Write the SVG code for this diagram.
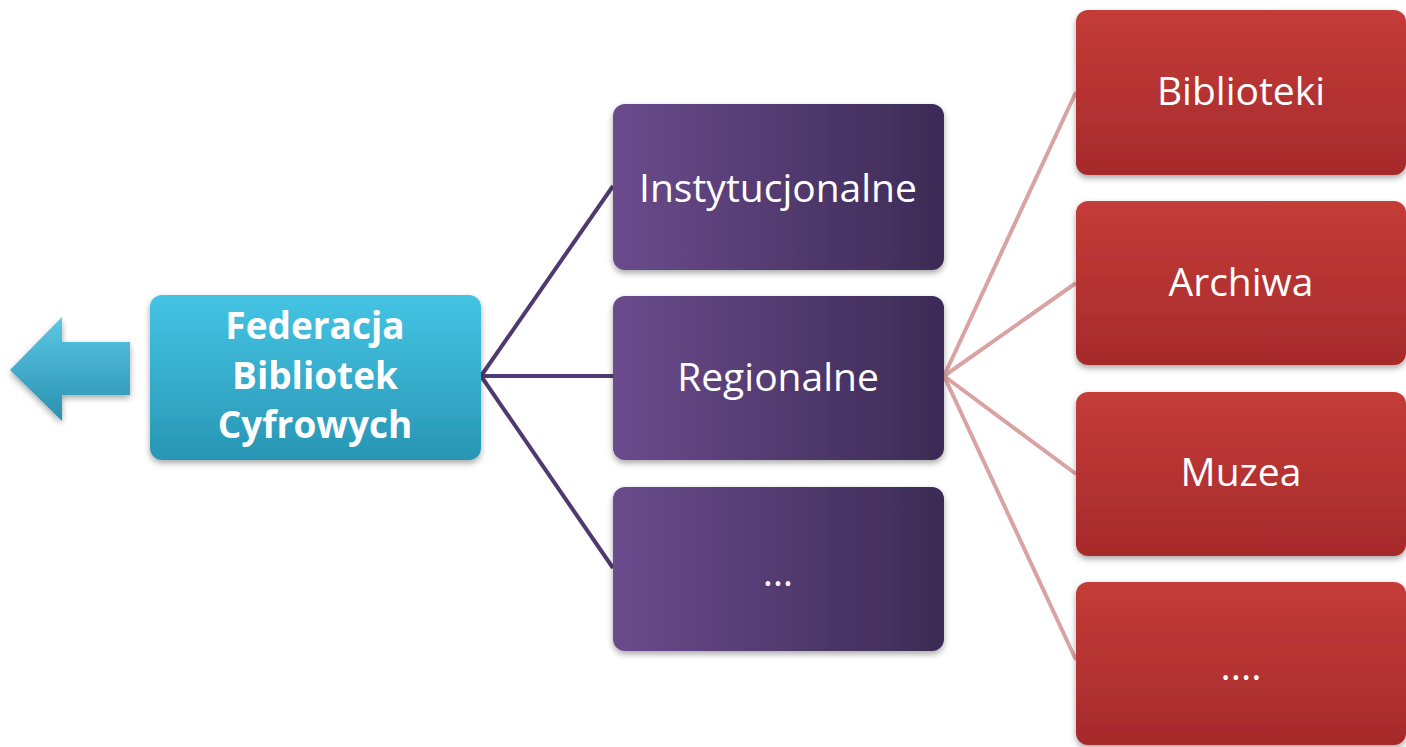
<svg xmlns="http://www.w3.org/2000/svg" width="1406" height="747" viewBox="0 0 1406 747">
<defs>
<linearGradient id="gBlue" x1="0" y1="0" x2="0" y2="1">
<stop offset="0" stop-color="#45c4e4"/><stop offset="1" stop-color="#2896b4"/>
</linearGradient>
<linearGradient id="gPurple" x1="0" y1="0" x2="1" y2="0">
<stop offset="0" stop-color="#6a4b8c"/><stop offset="1" stop-color="#3c2b55"/>
</linearGradient>
<linearGradient id="gRed" x1="0" y1="0" x2="0" y2="1">
<stop offset="0" stop-color="#c43c39"/><stop offset="1" stop-color="#a62a2b"/>
</linearGradient>
<linearGradient id="gArrow" x1="0" y1="0" x2="0" y2="1">
<stop offset="0" stop-color="#5cc8e4"/><stop offset="1" stop-color="#2a90b0"/>
</linearGradient>
<filter id="sh" x="-10%" y="-10%" width="120%" height="130%">
<feDropShadow dx="0" dy="3" stdDeviation="3" flood-color="#000" flood-opacity="0.35"/>
</filter>
</defs>
<style>
.box{filter:url(#sh);}
.t{font-family:"Open Sans","DejaVu Sans",sans-serif;fill:#fff;text-anchor:middle;dominant-baseline:central;font-size:39px;}
.tb{font-family:"Open Sans","DejaVu Sans",sans-serif;fill:#fff;text-anchor:middle;font-weight:bold;font-size:37px;}
.cp{stroke:#4e3a70;stroke-width:4;fill:none;}
.cr{stroke:#d9a3a3;stroke-width:4;fill:none;}
</style>
<rect width="1406" height="747" fill="#fff"/>
<g id="connectors">
<line class="cp" x1="481" y1="376" x2="613" y2="186"/>
<line class="cp" x1="481" y1="376" x2="613" y2="376"/>
<line class="cp" x1="481" y1="376" x2="613" y2="568"/>
<line class="cr" x1="944" y1="376" x2="1076" y2="92"/>
<line class="cr" x1="944" y1="376" x2="1076" y2="283"/>
<line class="cr" x1="944" y1="376" x2="1076" y2="474"/>
<line class="cr" x1="944" y1="376" x2="1076" y2="660"/>
</g>
<g id="arrow">
<polygon points="10,370 62,317 62,342 130,342 130,395 62,395 62,421" fill="url(#gArrow)" filter="url(#sh)"/>
</g>
<g id="fbc">
<rect class="box" x="150" y="295" width="331" height="165" rx="12" fill="url(#gBlue)"/>
<text class="tb" x="315" y="339">Federacja</text>
<text class="tb" x="315" y="389">Bibliotek</text>
<text class="tb" x="315" y="438">Cyfrowych</text>
</g>
<g id="instytucjonalne">
<rect class="box" x="613" y="104" width="331" height="166" rx="12" fill="url(#gPurple)"/>
<text class="t" x="778" y="186">Instytucjonalne</text>
</g>
<g id="regionalne">
<rect class="box" x="613" y="296" width="331" height="164" rx="12" fill="url(#gPurple)"/>
<text class="t" x="778" y="375">Regionalne</text>
</g>
<g id="inne1">
<rect class="box" x="613" y="487" width="331" height="164" rx="12" fill="url(#gPurple)"/>
<text class="t" x="778" y="570">…</text>
</g>
<g id="biblioteki">
<rect class="box" x="1076" y="10" width="330" height="165" rx="12" fill="url(#gRed)"/>
<text class="t" x="1241" y="89">Biblioteki</text>
</g>
<g id="archiwa">
<rect class="box" x="1076" y="201" width="330" height="164" rx="12" fill="url(#gRed)"/>
<text class="t" x="1241" y="280">Archiwa</text>
</g>
<g id="muzea">
<rect class="box" x="1076" y="392" width="330" height="164" rx="12" fill="url(#gRed)"/>
<text class="t" x="1241" y="470">Muzea</text>
</g>
<g id="inne2">
<rect class="box" x="1076" y="582" width="330" height="163" rx="12" fill="url(#gRed)"/>
<text class="t" x="1241" y="664">....</text>
</g>
</svg>
